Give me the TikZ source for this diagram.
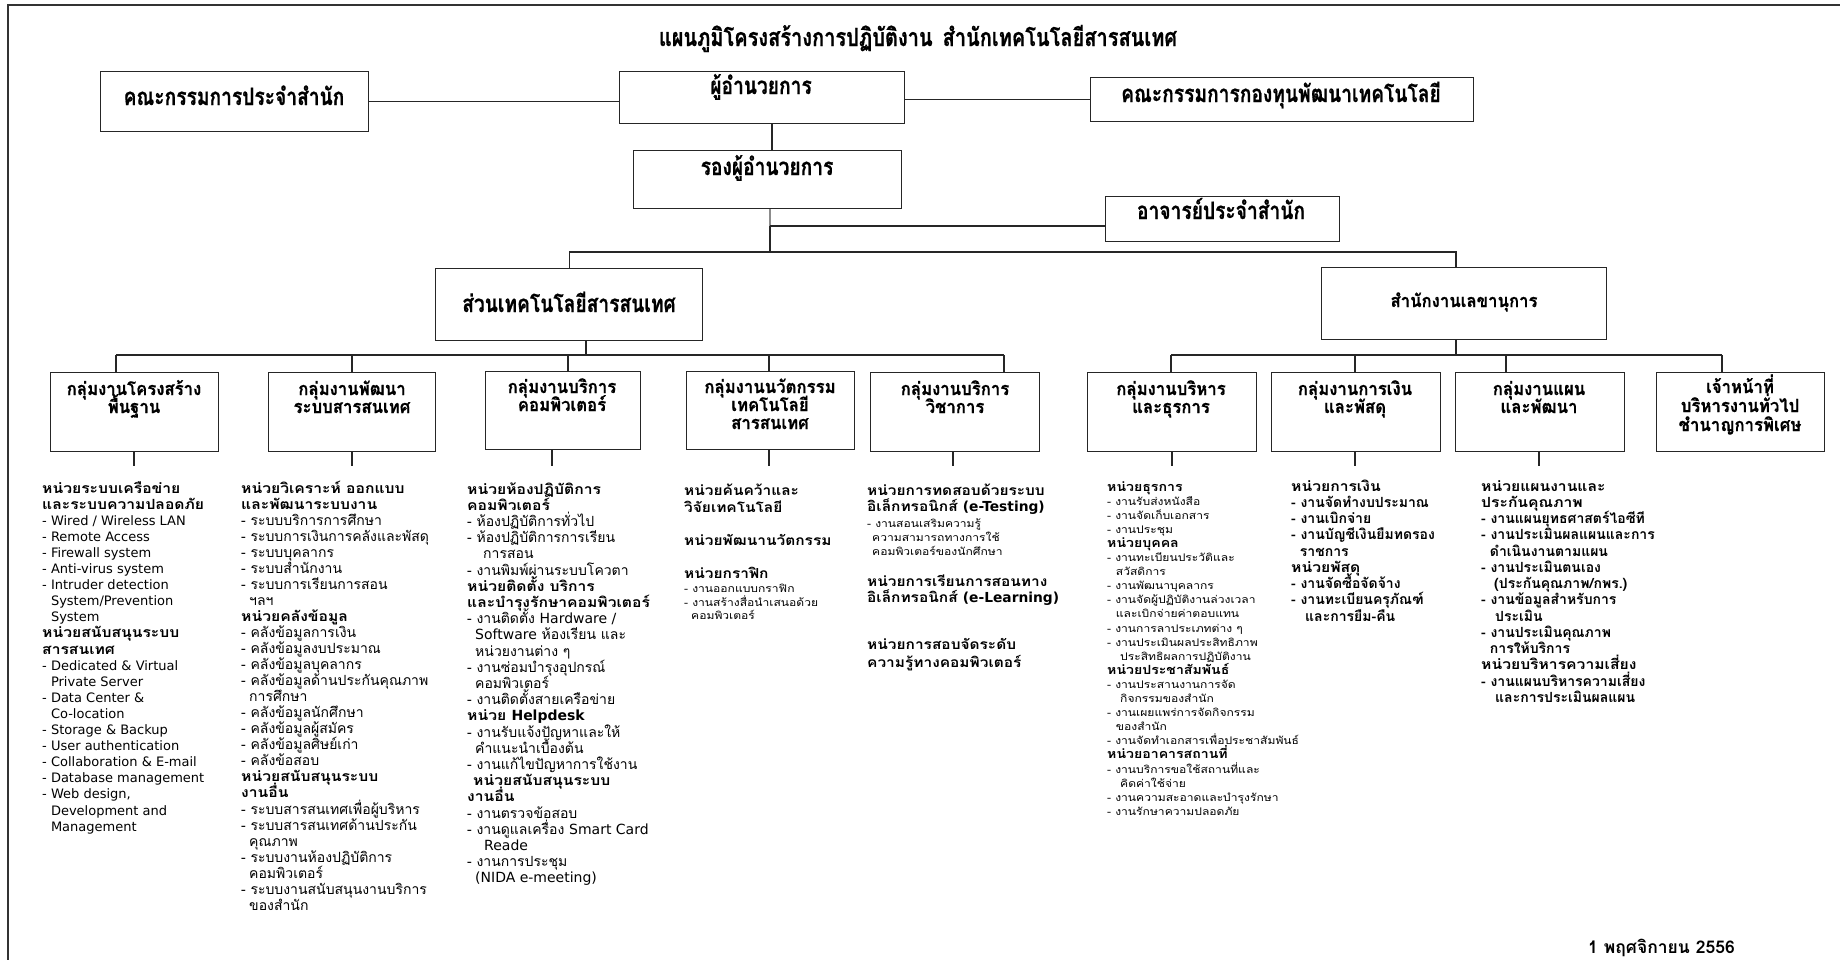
\documentclass[tikz,border=0pt]{standalone}
\usepackage{fontspec}
\usetikzlibrary{calc}
\newfontfamily\thaifont[Script=Thai]{Loma}
\newfontfamily\thaihead[Script=Thai,FakeStretch=1.12]{Loma}
\newfontfamily\thaiwide[Script=Thai,FakeStretch=1.15]{Loma}
\newfontfamily\thaititle[Script=Thai,FakeStretch=0.8,FakeBold=0.6]{Loma}
\newfontfamily\thaigroup[Script=Thai,FakeStretch=0.93,FakeBold=0.5]{Loma}
\newfontfamily\latfont{DejaVu Sans}
\newcommand\EN[1]{{\latfont #1}}
\newcommand\ENc[1]{{\latfont\fontsize{13}{16}\selectfont #1}}
\newcommand\HB[1]{{\thaihead\bfseries #1}}
\newcommand\HBM[1]{{\thaihead\bfseries\fontsize{12.6}{14}\selectfont #1}}
\newcommand\IN[1]{\hspace*{#1pt}}

% lines of a text column, one node per line
\newcommand\colbody[6]{% name, style, x, first baseline, step, lines
  \foreach \t [count=\i] in {#6}
    \node[#2] (#1-\i) at ({#3},{#4+(\i-1)*#5}) {\t};
}
% centred label lines inside a group box
\newcommand\grplabel[5]{% name, x, first baseline, step, lines
  \foreach \t [count=\i] in {#5}
    \node[grptext] (#1-\i) at ({#2},{#3+(\i-1)*#4}) {\t};
}

\tikzset{
  frame/.style={draw=black!80, line width=1.1pt},
  link/.style={draw=black!85, line width=1.2pt},
  orgbox/.style={draw=black!85, line width=1.3pt, anchor=north west, inner sep=0pt, fill=white},
  toptext/.style={font=\thaititle\bfseries\fontsize{24}{28}\selectfont, anchor=base, inner sep=0pt},
  grptext/.style={font=\thaigroup\bfseries\fontsize{18}{22}\selectfont, anchor=base, inner sep=0pt},
  c1s/.style={font=\thaifont\fontsize{14}{16}\selectfont, anchor=base west, inner sep=0pt},
  cn/.style={font=\thaifont\fontsize{14}{16}\selectfont, anchor=base west, inner sep=0pt},
  cb/.style={font=\thaifont\bfseries\fontsize{14}{16}\selectfont, anchor=base west, inner sep=0pt},
  ch/.style={font=\thaihead\bfseries\fontsize{13.8}{17}\selectfont, anchor=base west, inner sep=0pt},
  cs/.style={font=\thaiwide\fontsize{10.5}{14}\selectfont, anchor=base west, inner sep=0pt},
}

\begin{document}
\begin{tikzpicture}[x=1pt,y=-1pt]
\useasboundingbox (0,0) rectangle (1840,959);
\fill[white] (0,0) rectangle (1840,959);
\draw[frame] (8,962) -- (8,5) -- (1842,5);

% title
\node[toptext, font=\thaititle\bfseries\fontsize{25}{28}\selectfont] (title) at (918,46)
  {แผนภูมิโครงสร้างการปฏิบัติงาน\hspace{10pt}สำนักเทคโนโลยีสารสนเทศ};

% boxes
\node[orgbox, minimum width=268pt, minimum height=60pt] (kc)   at (100,71)  {};
\node[orgbox, minimum width=285pt, minimum height=52pt] (dir)  at (619,71)  {};
\node[orgbox, minimum width=383pt, minimum height=44pt] (fund) at (1090,77) {};
\node[orgbox, minimum width=268pt, minimum height=58pt] (dep)  at (633,150) {};
\node[orgbox, minimum width=234pt, minimum height=45pt] (lec)  at (1105,196) {};
\node[orgbox, minimum width=267pt, minimum height=72pt] (it)   at (435,268) {};
\node[orgbox, minimum width=285pt, minimum height=72pt] (sec)  at (1321,267) {};

\node[orgbox, minimum width=168pt, minimum height=79pt] (g1) at (50,372)   {};
\node[orgbox, minimum width=167pt, minimum height=79pt] (g2) at (268,372)  {};
\node[orgbox, minimum width=155pt, minimum height=78pt] (g3) at (485,371)  {};
\node[orgbox, minimum width=168pt, minimum height=78pt] (g4) at (686,371)  {};
\node[orgbox, minimum width=169pt, minimum height=79pt] (g5) at (870,372)  {};
\node[orgbox, minimum width=169pt, minimum height=79pt] (g6) at (1087,372) {};
\node[orgbox, minimum width=169pt, minimum height=79pt] (g7) at (1271,372) {};
\node[orgbox, minimum width=169pt, minimum height=79pt] (g8) at (1455,372) {};
\node[orgbox, minimum width=168pt, minimum height=79pt] (g9) at (1656,372) {};

% box titles
\node[toptext] (kc-t)   at (234,105)  {คณะกรรมการประจำสำนัก};
\node[toptext] (dir-t)  at (761,94)   {ผู้อำนวยการ};
\node[toptext] (fund-t) at (1281,102) {คณะกรรมการกองทุนพัฒนาเทคโนโลยี};
\node[toptext] (dep-t)  at (767,175)  {รองผู้อำนวยการ};
\node[toptext] (lec-t)  at (1221,219) {อาจารย์ประจำสำนัก};
\node[toptext] (it-t)   at (569,312)  {ส่วนเทคโนโลยีสารสนเทศ};
\node[grptext] (sec-t)  at (1464,307) {สำนักงานเลขานุการ};

\grplabel{g1t}{134}{395}{18}{กลุ่มงานโครงสร้าง,พื้นฐาน}
\grplabel{g2t}{352}{395}{18}{กลุ่มงานพัฒนา,ระบบสารสนเทศ}
\grplabel{g3t}{562}{393}{18}{กลุ่มงานบริการ,คอมพิวเตอร์}
\grplabel{g4t}{770}{393}{18}{กลุ่มงานนวัตกรรม,เทคโนโลยี,สารสนเทศ}
\grplabel{g5t}{955}{395}{18}{กลุ่มงานบริการ,วิชาการ}
\grplabel{g6t}{1171}{395}{18}{กลุ่มงานบริหาร,และธุรการ}
\grplabel{g7t}{1355}{395}{18}{กลุ่มงานการเงิน,และพัสดุ}
\grplabel{g8t}{1539}{395}{18}{กลุ่มงานแผน,และพัฒนา}
\grplabel{g9t}{1740}{393}{19}{เจ้าหน้าที่,บริหารงานทั่วไป,ชำนาญการพิเศษ}

% junction points
\coordinate (sp0) at (772,0);
\coordinate (jl)  at (770,226);
\coordinate (jb)  at (770,252);
\coordinate (b1r) at (1456,252);
\coordinate (itd) at (586,355);
\coordinate (it1) at (116,355);
\coordinate (it2) at (352,355);
\coordinate (it3) at (568,355);
\coordinate (it4) at (769,355);
\coordinate (it5) at (1004,355);
\coordinate (scd) at (1456,355);
\coordinate (sc1) at (1171,355);
\coordinate (sc2) at (1355,355);
\coordinate (sc3) at (1506,355);
\coordinate (sc4) at (1722,355);

% upper connectors
\draw[link] (kc.east) -- (kc.east -| dir.west);
\draw[link] (fund.west) -- (fund.west -| dir.east);
\draw[link] (dir.south -| sp0) -- (dep.north -| sp0);
\draw[link, draw=black!45] (dep.south -| jb) -- (jl);
\draw[link] (jl) -- (jb);
\draw[link] (jl) -- (jl -| lec.west);
\draw[link] (it.north) |- (b1r) -- (b1r |- sec.north);

% branches of the information technology division
\draw[link] (it.south -| itd) -- (itd);
\draw[link] (it1) -- (it5);
\foreach \c/\g in {it1/g1,it2/g2,it3/g3,it4/g4,it5/g5}
  \draw[link] (\c) -- (\c |- \g.north);

% branches of the secretariat
\draw[link] (sec.south -| scd) -- (scd);
\draw[link] (sc1) -- (sc4);
\foreach \c/\g in {sc1/g6,sc2/g7,sc3/g8,sc4/g9}
  \draw[link] (\c) -- (\c |- \g.north);

% stubs below the group boxes
\foreach \n/\x/\g in {1/134/g1,2/352/g2,3/552/g3,4/769/g4,5/953/g5,6/1172/g6,7/1355/g7,8/1539/g8}{
  \coordinate (st\n) at (\x,466);
  \draw[link] (st\n |- \g.south) -- (st\n);
}

% column texts
\colbody{c1}{c1s}{42}{493}{16.1}{%
{\HB{หน่วยระบบเครือข่าย}},
{\HB{และระบบความปลอดภัย}},
{\ENc{- Wired / Wireless LAN}},
{\ENc{- Remote Access}},
{\ENc{- Firewall system}},
{\ENc{- Anti-virus system}},
{\ENc{- Intruder detection}},
{\ENc{\phantom{- }System/Prevention}},
{\ENc{\phantom{- }System}},
{\HB{หน่วยสนับสนุนระบบ}},
{\HB{สารสนเทศ}},
{\ENc{- Dedicated \& Virtual}},
{\ENc{\phantom{- }Private Server}},
{\ENc{- Data Center \&}},
{\ENc{\phantom{- }Co-location}},
{\ENc{- Storage \& Backup}},
{\ENc{- User authentication}},
{\ENc{- Collaboration \& E-mail}},
{\ENc{- Database management}},
{\ENc{- Web design,}},
{\ENc{\phantom{- }Development and}},
{\ENc{\phantom{- }Management}}}

\colbody{c2}{cn}{241}{493}{16.05}{%
{\HB{หน่วยวิเคราะห์ ออกแบบ}},
{\HB{และพัฒนาระบบงาน}},
{- ระบบบริการการศึกษา},
{- ระบบการเงินการคลังและพัสดุ},
{- ระบบบุคลากร},
{- ระบบสำนักงาน},
{- ระบบการเรียนการสอน},
{\IN{8}ฯลฯ},
{\HB{หน่วยคลังข้อมูล}},
{- คลังข้อมูลการเงิน},
{- คลังข้อมูลงบประมาณ},
{- คลังข้อมูลบุคลากร},
{- คลังข้อมูลด้านประกันคุณภาพ},
{\IN{8}การศึกษา},
{- คลังข้อมูลนักศึกษา},
{- คลังข้อมูลผู้สมัคร},
{- คลังข้อมูลศิษย์เก่า},
{- คลังข้อสอบ},
{\HB{หน่วยสนับสนุนระบบ}},
{\HB{งานอื่น}},
{- ระบบสารสนเทศเพื่อผู้บริหาร},
{- ระบบสารสนเทศด้านประกัน},
{\IN{8}คุณภาพ},
{- ระบบงานห้องปฏิบัติการ},
{\IN{8}คอมพิวเตอร์},
{- ระบบงานสนับสนุนงานบริการ},
{\IN{8}ของสำนัก}}

\colbody{c3}{cn}{467}{494}{16.2}{%
{\HB{หน่วยห้องปฏิบัติการ}},
{\HB{คอมพิวเตอร์}},
{- ห้องปฏิบัติการทั่วไป},
{- ห้องปฏิบัติการการเรียน},
{\IN{16}การสอน},
{- งานพิมพ์ผ่านระบบโควตา},
{\HB{หน่วยติดตั้ง บริการ}},
{\HB{และบำรุงรักษาคอมพิวเตอร์}},
{- งานติดตั้ง \EN{Hardware /}},
{\IN{8}\EN{Software} ห้องเรียน และ},
{\IN{8}หน่วยงานต่าง ๆ},
{- งานซ่อมบำรุงอุปกรณ์},
{\IN{8}คอมพิวเตอร์},
{- งานติดตั้งสายเครือข่าย},
{\HB{หน่วย \EN{Helpdesk}}},
{- งานรับแจ้งปัญหาและให้},
{\IN{8}คำแนะนำเบื้องต้น},
{- งานแก้ไขปัญหาการใช้งาน},
{\IN{6}\HB{หน่วยสนับสนุนระบบ}},
{\HB{งานอื่น}},
{- งานตรวจข้อสอบ},
{- งานดูแลเครื่อง \EN{Smart Card}},
{\IN{17}\EN{Reade}},
{- งานการประชุม},
{\IN{8}\EN{(NIDA e-meeting)}}}

% innovation group
\node[ch] (c4-1) at (684,495.5) {หน่วยค้นคว้าและ};
\node[ch] (c4-2) at (684,512.5) {วิจัยเทคโนโลยี};
\node[ch] (c4-3) at (684,545.5) {หน่วยพัฒนานวัตกรรม};
\node[ch] (c4-4) at (684,578.5) {หน่วยกราฟิก};
\node[cs] (c4-5) at (684,592.5) {- งานออกแบบกราฟิก};
\node[cs] (c4-6) at (684,606.5) {- งานสร้างสื่อนำเสนอด้วย};
\node[cs] (c4-7) at (684,619.5) {\IN{7}คอมพิวเตอร์};

% academic service group
\node[ch] (c5-1) at (867,495) {หน่วยการทดสอบด้วยระบบ};
\node[ch] (c5-2) at (867,511) {อิเล็กทรอนิกส์ \EN{(e-Testing)}};
\node[cs] (c5-3) at (867,527.5) {- งานสอนเสริมความรู้};
\node[cs] (c5-4) at (867,541.5) {\IN{5}ความสามารถทางการใช้};
\node[cs] (c5-5) at (867,555.5) {\IN{5}คอมพิวเตอร์ของนักศึกษา};
\node[ch] (c5-6) at (867,586) {หน่วยการเรียนการสอนทาง};
\node[ch] (c5-7) at (867,602) {อิเล็กทรอนิกส์ \EN{(e-Learning)}};
\node[ch] (c5-8) at (867,649) {หน่วยการสอบจัดระดับ};
\node[ch] (c5-9) at (867,667) {ความรู้ทางคอมพิวเตอร์};

\colbody{c6}{cs}{1107}{491}{14.1}{%
{\HBM{หน่วยธุรการ}},
{- งานรับส่งหนังสือ},
{- งานจัดเก็บเอกสาร},
{- งานประชุม},
{\HBM{หน่วยบุคคล}},
{- งานทะเบียนประวัติและ},
{\IN{8.7}สวัสดิการ},
{- งานพัฒนาบุคลากร},
{- งานจัดผู้ปฏิบัติงานล่วงเวลา},
{\IN{8.7}และเบิกจ่ายค่าตอบแทน},
{- งานการลาประเภทต่าง ๆ},
{- งานประเมินผลประสิทธิภาพ},
{\IN{13}ประสิทธิผลการปฏิบัติงาน},
{\HBM{หน่วยประชาสัมพันธ์}},
{- งานประสานงานการจัด},
{\IN{13}กิจกรรมของสำนัก},
{- งานเผยแพร่การจัดกิจกรรม},
{\IN{8.7}ของสำนัก},
{- งานจัดทำเอกสารเพื่อประชาสัมพันธ์},
{\HBM{หน่วยอาคารสถานที่}},
{- งานบริการขอใช้สถานที่และ},
{\IN{13}คิดค่าใช้จ่าย},
{- งานความสะอาดและบำรุงรักษา},
{- งานรักษาความปลอดภัย}}

\colbody{c7}{cb}{1291}{491}{16.25}{%
{\HB{หน่วยการเงิน}},
{- งานจัดทำงบประมาณ},
{- งานเบิกจ่าย},
{- งานบัญชีเงินยืมทดรอง},
{\IN{8.7}ราชการ},
{\HB{หน่วยพัสดุ}},
{- งานจัดซื้อจัดจ้าง},
{- งานทะเบียนครุภัณฑ์},
{\IN{14}และการยืม-คืน}}

\colbody{c8}{cb}{1481}{491}{16.25}{%
{\HB{หน่วยแผนงานและ}},
{\HB{ประกันคุณภาพ}},
{- งานแผนยุทธศาสตร์ไอซีที},
{- งานประเมินผลแผนและการ},
{\IN{8.7}ดำเนินงานตามแผน},
{- งานประเมินตนเอง},
{\IN{13}(ประกันคุณภาพ/กพร.)},
{- งานข้อมูลสำหรับการ},
{\IN{14}ประเมิน},
{- งานประเมินคุณภาพ},
{\IN{8.7}การให้บริการ},
{\HB{หน่วยบริหารความเสี่ยง}},
{- งานแผนบริหารความเสี่ยง},
{\IN{14}และการประเมินผลแผน}}

% date
\node[font=\thaifont\bfseries\fontsize{17.5}{20}\selectfont, anchor=base west, inner sep=0pt] (date)
  at (1588,953) {1 พฤศจิกายน 2556};
\end{tikzpicture}
\end{document}
